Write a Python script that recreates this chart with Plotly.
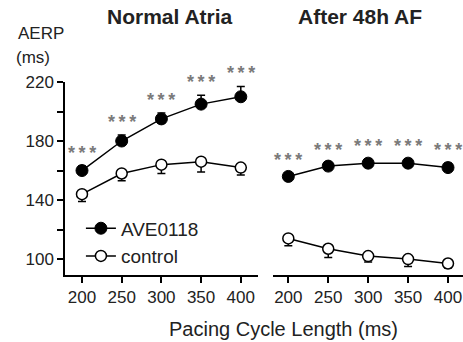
import plotly.graph_objects as go

# Pacing cycle lengths (ms)
cycle_lengths = [200, 250, 300, 350, 400]

# Normal atria: AERP (ms) with SEM
normal_ave = [160, 180, 195, 205, 210]
normal_ave_err = [3, 4, 4, 6, 7]
normal_ctl = [144, 158, 164, 166, 162]
normal_ctl_err = [5, 5, 6, 7, 5]

# After 48h AF: AERP (ms) with SEM
af_ave = [156, 163, 165, 165, 162]
af_ave_err = [2, 2, 3, 3, 3]
af_ctl = [114, 107, 102, 100, 97]
af_ctl_err = [5, 6, 4, 5, 3]

significance = ["<b>*\u2009*\u2009*</b>"] * 5

y_tickvals = [100, 120, 140, 160, 180, 200, 220]
y_ticktext = ["100", "", "140", "", "180", "", "220"]

FONT = "Arial, Liberation Sans, sans-serif"
STAR_COLOR = "#7a7a7a"

W, H = 463, 342
ML, MR, MT, MB = 65, 0, 82, 67

fig = go.Figure()


def add_pair(xaxis, ave, ave_err, ctl, ctl_err, show_legend):
    fig.add_trace(go.Scatter(
        x=cycle_lengths, y=ctl, mode="lines+markers", name="control",
        xaxis=xaxis, yaxis="y", showlegend=show_legend, legendrank=2,
        line=dict(color="black", width=1.5),
        marker=dict(symbol="circle", size=11, color="white",
                    line=dict(color="black", width=1.5)),
        error_y=dict(type="data", symmetric=False,
                     array=[0] * len(ctl_err), arrayminus=ctl_err,
                     color="black", thickness=1.5, width=4),
        cliponaxis=False,
    ))
    fig.add_trace(go.Scatter(
        x=cycle_lengths, y=ave, mode="lines+markers", name="AVE0118",
        xaxis=xaxis, yaxis="y", showlegend=show_legend, legendrank=1,
        line=dict(color="black", width=1.5),
        marker=dict(symbol="circle", size=12, color="black",
                    line=dict(color="black", width=1)),
        error_y=dict(type="data", symmetric=False,
                     array=ave_err, arrayminus=[0] * len(ave_err),
                     color="black", thickness=1.5, width=4),
        cliponaxis=False,
    ))
    ref = "x" if xaxis == "x" else "x2"
    for cl, v, e, s in zip(cycle_lengths, ave, ave_err, significance):
        fig.add_annotation(
            x=cl, y=v + e, xref=ref, yref="y", text=s, showarrow=False,
            yanchor="middle", yshift=13,
            font=dict(family=FONT, size=18, color=STAR_COLOR),
        )


add_pair("x", normal_ave, normal_ave_err, normal_ctl, normal_ctl_err, True)
add_pair("x2", af_ave, af_ave_err, af_ctl, af_ctl_err, False)

axis_common = dict(
    showline=True, linecolor="black", linewidth=1.5,
    ticks="outside", ticklen=6, tickwidth=1.5, tickcolor="black",
    showgrid=False, zeroline=False, automargin=False,
    tickfont=dict(family=FONT, size=17, color="#222"),
    tickvals=cycle_lengths,
)

fig.update_layout(
    width=W, height=H,
    margin=dict(l=ML, r=MR, t=MT, b=MB, autoexpand=False),
    paper_bgcolor="white", plot_bgcolor="white",
    xaxis=dict(domain=[0.0, 0.485], range=[178.6, 421.7],
               anchor="y", **axis_common),
    xaxis2=dict(domain=[0.523, 1.0], range=[181, 418.8],
                anchor="y", **axis_common),
    yaxis=dict(range=[89.2, 220], showline=True, linecolor="black",
               linewidth=1.5, ticks="outside", ticklen=6, tickwidth=1.5,
               tickcolor="black", showgrid=False, zeroline=False,
               automargin=False,
               tickvals=y_tickvals, ticktext=y_ticktext,
               tickfont=dict(family=FONT, size=17, color="#222")),
    legend=dict(x=0.04, y=0.34, xanchor="left", yanchor="top",
                bgcolor="rgba(0,0,0,0)",
                font=dict(family=FONT, size=19, color="#222"),
                itemwidth=30, tracegroupgap=0),
    showlegend=True,
)


def px_to_paper(px, py):
    return (px - ML) / (W - ML - MR), (H - MB - py) / (H - MT - MB)


# Panel titles and axis labels, placed by pixel position
labels = [
    ("<b>Normal Atria</b>", 170, 17, "center", 21),
    ("<b>After 48h AF</b>", 360, 17, "center", 21),
    ("AERP", 16, 33, "left", 17),
    ("(ms)", 14, 57, "left", 17),
    ("Pacing Cycle Length (ms)", 283, 329, "center", 20),
]
for text, px, py, anchor, size in labels:
    x, y = px_to_paper(px, py)
    fig.add_annotation(text=text, x=x, y=y, xref="paper", yref="paper",
                       xanchor=anchor, yanchor="middle", showarrow=False,
                       font=dict(family=FONT, size=size, color="#222"))

fig.write_html("out.html")
